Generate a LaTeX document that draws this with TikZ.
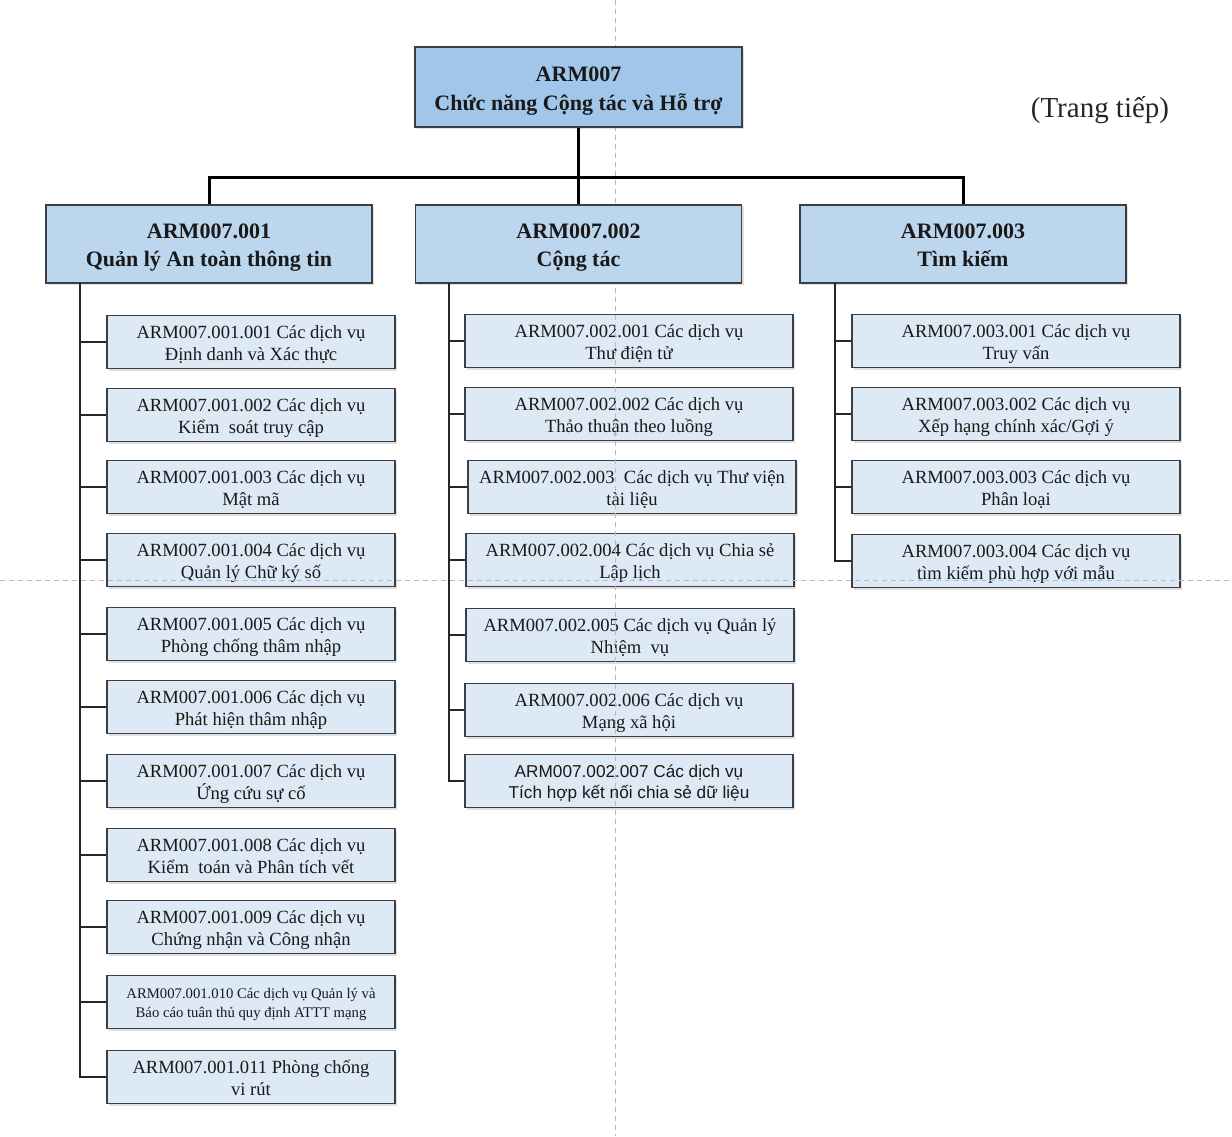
\documentclass[tikz,border=0pt]{standalone}
\usepackage{fontspec}
\setmainfont{Liberation Serif}
\newfontfamily\arialf{Liberation Sans}
\usetikzlibrary{shadows}
\definecolor{topfill}{HTML}{A2C6EA}
\definecolor{hfill}{HTML}{BCD6EE}
\definecolor{cfill}{HTML}{DDE9F5}
\definecolor{bordc}{HTML}{3A3F47}
\tikzset{
 box/.style={draw=bordc, line width=1.5pt, align=center, inner sep=0pt, text=black!90,
   drop shadow={shadow xshift=2pt, shadow yshift=-2pt, opacity=0.25, fill=gray}},
 topbox/.style={box, fill=topfill, minimum width=327pt, minimum height=80pt, font=\fontsize{22}{29}\selectfont\bfseries},
 headbox/.style={box, fill=hfill, minimum width=326pt, minimum height=78pt, font=\fontsize{22}{28}\selectfont\bfseries},
 childbox/.style={box, fill=cfill, minimum height=53pt, font=\fontsize{18.6}{22}\selectfont},
 cA/.style={childbox, minimum width=288pt},
 cB/.style={childbox, minimum width=328pt},
 mainline/.style={line width=3pt, black},
 subline/.style={line width=1.8pt, black!85},
 guide/.style={gray!55, line width=1pt, dash pattern=on 5pt off 4pt}
}
\newcommand{\tl}{\rule{0pt}{21.5pt}}
\newcommand{\bl}{\rule[-6.6pt]{0pt}{0pt}}
\newcommand{\htl}{\rule{0pt}{26pt}}
\newcommand{\hbl}{\rule[-8.4pt]{0pt}{0pt}}
\begin{document}
\begin{tikzpicture}[x=1pt,y=-1pt]
\useasboundingbox (0,0) rectangle (1232,1136);
\fill[white] (0,0) rectangle (1232,1136);

% column 1
\node[cA] (a1) at (251,342) {\tl ARM007.001.001 Các dịch vụ\\Định danh và Xác thực\bl};
\node[cA] (a2) at (251,415) {\tl ARM007.001.002 Các dịch vụ\\Kiểm\ \ soát truy cập\bl};
\node[cA] (a3) at (251,487) {\tl ARM007.001.003 Các dịch vụ\\Mật mã\bl};
\node[cA] (a4) at (251,560) {\tl ARM007.001.004 Các dịch vụ\\Quản lý Chữ ký số\bl};
\node[cA] (a5) at (251,634) {\tl ARM007.001.005 Các dịch vụ\\Phòng chống thâm nhập\bl};
\node[cA] (a6) at (251,707) {\tl ARM007.001.006 Các dịch vụ\\Phát hiện thâm nhập\bl};
\node[cA] (a7) at (251,781) {\tl ARM007.001.007 Các dịch vụ\\Ứng cứu sự cố\bl};
\node[cA] (a8) at (251,855) {\tl ARM007.001.008 Các dịch vụ\\Kiểm\ \ toán và Phân tích vết\bl};
\node[cA] (a9) at (251,927) {\tl ARM007.001.009 Các dịch vụ\\Chứng nhận và Công nhận\bl};
\node[cA, font=\fontsize{14.7}{19}\selectfont] (a10) at (251,1002) {\rule{0pt}{17pt}ARM007.001.010 Các dịch vụ Quản lý và\\Báo cáo tuân thủ quy định ATTT mạng\rule[-5.5pt]{0pt}{0pt}};
\node[cA] (a11) at (251,1077) {\tl ARM007.001.011 Phòng chống\\vi rút\bl};

% column 2
\node[cB] (b1) at (629,341) {\tl ARM007.002.001 Các dịch vụ\\Thư điện tử\bl};
\node[cB] (b2) at (629,414) {\tl ARM007.002.002 Các dịch vụ\\Thảo thuận theo luồng\bl};
\node[cB] (b3) at (632,487) {\tl ARM007.002.003\ \ Các dịch vụ Thư viện\\tài liệu\bl};
\node[cB] (b4) at (630,560) {\tl ARM007.002.004 Các dịch vụ Chia sẻ\\Lập lịch\bl};
\node[cB] (b5) at (630,635) {\tl ARM007.002.005 Các dịch vụ Quản lý\\Nhiệm\ \ vụ\bl};
\node[cB] (b6) at (629,710) {\tl ARM007.002.006 Các dịch vụ\\Mạng xã hội\bl};
\node[cB, font=\arialf\fontsize{17.2}{21}\selectfont] (b7) at (629,781) {\tl ARM007.002.007 Các dịch vụ\\Tích hợp kết nối chia sẻ dữ liệu\bl};

% column 3
\node[cB] (d1) at (1016,341) {\tl ARM007.003.001 Các dịch vụ\\Truy vấn\bl};
\node[cB] (d2) at (1016,414) {\tl ARM007.003.002 Các dịch vụ\\Xếp hạng chính xác/Gợi ý\bl};
\node[cB] (d3) at (1016,487) {\tl ARM007.003.003 Các dịch vụ\\Phân loại\bl};
\node[cB] (d4) at (1016,561) {\tl ARM007.003.004 Các dịch vụ\\tìm kiếm phù hợp với mẫu\bl};

% page guides
\draw[guide] (615,0) -- (615,1136);
\draw[guide] (0,580) -- (1232,580);

% top
\node[topbox] (top) at (578.5,87) {\htl ARM007\\Chức năng Cộng tác và Hỗ trợ\hbl};
\node[font=\fontsize{29}{32}\selectfont, text=black!85] (cont) at (1100,110) {(Trang tiếp)};

% level 2
\node[headbox] (h1) at (209,244) {\htl ARM007.001\\Quản lý An toàn thông tin\hbl};
\node[headbox] (h2) at (578.5,244) {\htl ARM007.002\\Cộng tác\hbl};
\node[headbox] (h3) at (963,244) {\htl ARM007.003\\Tìm kiếm\hbl};

% main connectors
\draw[mainline] (top.south) -- (h2.north);
\draw[mainline] (h1.north) -- ++(0,-27) -| (h3.north);

% spines
\coordinate (s1) at (80,283);
\coordinate (s2) at (449,283);
\coordinate (s3) at (835,283);
\draw[subline] (s1) |- (a11.west);
\foreach \k in {1,...,10} { \draw[subline] (s1 |- a\k.west) -- (a\k.west); }
\draw[subline] (s2) |- (b7.west);
\foreach \k in {1,...,6} { \draw[subline] (s2 |- b\k.west) -- (b\k.west); }
\draw[subline] (s3) |- (d4.west);
\foreach \k in {1,...,3} { \draw[subline] (s3 |- d\k.west) -- (d\k.west); }
\end{tikzpicture}
\end{document}
